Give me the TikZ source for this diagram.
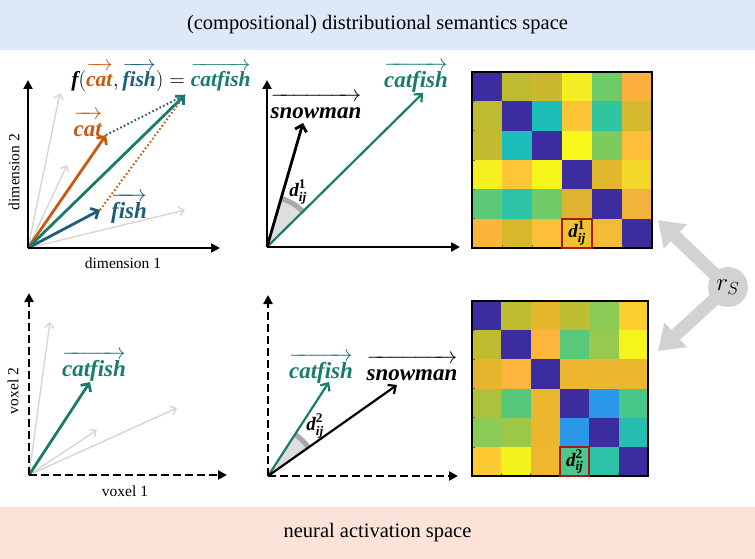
\RequirePackage{fix-cm}
\documentclass[tikz,border=0pt]{standalone}
\usepackage{amsmath}
\usepackage{fontspec}
\setmainfont{Liberation Serif}
\usetikzlibrary{arrows.meta}

\definecolor{catc}{HTML}{C55A11}
\definecolor{fishc}{HTML}{1F5C7C}
\definecolor{cfc}{HTML}{1B7B6B}
\definecolor{lgray}{HTML}{D6D6D6}
\definecolor{topband}{HTML}{DDE9F6}
\definecolor{botband}{HTML}{FBE3DA}
\definecolor{redbox}{HTML}{A31A1A}
\definecolor{rsgray}{HTML}{D2D2D2}
\definecolor{sectorc}{HTML}{DEDEDE}
\definecolor{arcc}{HTML}{A9A9A9}

\newcommand{\bitext}{\bfseries\itshape}
\newcommand{\vlab}[1]{\overrightarrow{\text{\bitext #1\/\rule{0pt}{0.73em}}}}
\newcommand{\dlab}[1]{\text{\bitext d}^{\text{\bfseries #1}}_{\text{\bitext ij}}}

\begin{document}
\begin{tikzpicture}[x=1pt,y=-1pt,
  axis/.style={line width=2.8pt, -{Triangle[length=9pt,width=9pt]}},
  daxis/.style={axis, dash pattern=on 8pt off 4pt},
  vec/.style={line width=2.8pt, -{Straight Barb[length=6pt,width=12pt]}},
  midvec/.style={line width=2.2pt, -{Straight Barb[length=6pt,width=11pt]}},
  thinvec/.style={line width=1.4pt, lgray, -{Straight Barb[length=5pt,width=9pt]}},
  dotline/.style={line width=2pt, dash pattern=on 1.6pt off 2.4pt},
  vlabel/.style={font=\fontsize{23}{25}\selectfont, inner sep=0pt},
  flabel/.style={font=\fontsize{21.5}{24}\selectfont, inner sep=0pt},
  dlabel/.style={font=\fontsize{19}{21}\selectfont, inner sep=0pt},
  axlabel/.style={font=\fontsize{15.5}{18}\selectfont, inner sep=0pt},
  band/.style={font=\fontsize{20.5}{24}\selectfont, inner sep=0pt},
  sector/.style={fill=sectorc},
  arcband/.style={line width=5pt, arcc},
  hlcell/.style={draw=redbox, line width=2.2pt, inner sep=0pt, font=\fontsize{19}{21}\selectfont},
]
\useasboundingbox (0,0) rectangle (755,559);

% bands
\fill[topband] (0,0) rectangle (755,50);
\node[band] (toptitle) at (377.5,25) {(compositional) distributional semantics space};
\fill[botband] (0,507) rectangle (755,559);
\node[band] (bottitle) at (377.5,533) {neural activation space};

% ---------- panel 1 ----------
\coordinate (o1) at (28,248);
\coordinate (y1) at (28,80);
\coordinate (x1) at (220,248);
\coordinate (g1a) at (60,93);
\coordinate (g1b) at (67,165);
\coordinate (g1c) at (185,210);
\coordinate (cat) at (106,135);
\coordinate (fish) at (100,210);
\coordinate (cf1) at (185,95);
\draw[thinvec] (o1) -- (g1a);
\draw[thinvec] (o1) -- (g1b);
\draw[thinvec] (o1) -- (g1c);
\draw[dotline, fishc] (cat) -- (cf1);
\draw[dotline, catc] (fish) -- (cf1);
\draw[vec, catc] (o1) -- (cat);
\draw[vec, fishc] (o1) -- (fish);
\draw[vec, cfc] (o1) -- (cf1);
\draw[axis] (o1) -- (y1);
\draw[axis] (o1) -- (x1);
\node[vlabel, text=catc] (catlab) at (88,124) {$\vlab{cat}$};
\node[vlabel, text=fishc] (fishlab) at (129,208) {$\vlab{fish}$};
\node[flabel] (formula) at (161,77) {$\text{\bitext f}({\color{catc}\vlab{cat}},{\color{fishc}\vlab{fish}})={\color{cfc}\vlab{catfish}}$};
\node[axlabel, rotate=90] (dim2) at (14,172) {dimension 2};
\node[axlabel] (dim1) at (123,263) {dimension 1};

% ---------- panel 2 ----------
\coordinate (o2) at (267,247);
\coordinate (y2) at (267,80);
\coordinate (x2) at (460,247);
\coordinate (snow2) at (303,123);
\coordinate (cf2) at (423,93);
\fill[sector] (o2) -- ++(-44.6:53) arc[start angle=-44.6, end angle=-73.8, radius=53] -- cycle;
\draw[arcband] ([shift={(-44.6:50.5)}]o2) arc[start angle=-44.6, end angle=-73.8, radius=50.5];
\draw[midvec, cfc] (o2) -- (cf2);
\draw[vec, black] (o2) -- (snow2);
\draw[axis] (o2) -- (y2);
\draw[axis] (o2) -- (x2);
\node[vlabel] (snowlab2) at (316,106) {$\vlab{snowman}$};
\node[vlabel, text=cfc] (cflab2) at (416,77) {$\vlab{catfish}$};
\node[dlabel] (d1) at (298,192) {$\dlab{1}$};

% ---------- panel 4 ----------
\coordinate (o4) at (29,475);
\coordinate (y4) at (29,293);
\coordinate (x4) at (227,475);
\coordinate (g4a) at (50,322);
\coordinate (g4b) at (97,430);
\coordinate (g4c) at (177,408);
\coordinate (cf4) at (90,382);
\draw[thinvec] (o4) -- (g4a);
\draw[thinvec] (o4) -- (g4b);
\draw[thinvec] (o4) -- (g4c);
\draw[vec, cfc] (o4) -- (cf4);
\draw[daxis] (o4) -- (y4);
\draw[daxis] (o4) -- (x4);
\node[vlabel, text=cfc] (cflab4) at (94,366) {$\vlab{catfish}$};
\node[axlabel, rotate=90] (vox2) at (13,391) {voxel 2};
\node[axlabel] (vox1) at (125,491) {voxel 1};

% ---------- panel 5 ----------
\coordinate (o5) at (268,476);
\coordinate (y5) at (268,295);
\coordinate (x5) at (458,476);
\coordinate (cf5) at (329,382);
\coordinate (snow5) at (397,385);
\fill[sector] (o5) -- ++(-35.2:52) arc[start angle=-35.2, end angle=-57.0, radius=52] -- cycle;
\draw[arcband] ([shift={(-35.2:49.5)}]o5) arc[start angle=-35.2, end angle=-57.0, radius=49.5];
\draw[midvec, cfc] (o5) -- (cf5);
\draw[midvec, black] (o5) -- (snow5);
\draw[daxis] (o5) -- (y5);
\draw[daxis] (o5) -- (x5);
\node[vlabel, text=cfc] (cflab5) at (321,368) {$\vlab{catfish}$};
\node[vlabel] (snowlab5) at (412,368) {$\vlab{snowman}$};
\node[dlabel] (d2) at (315,426) {$\dlab{2}$};

% ---------- matrix top ----------
\foreach \row [count=\i from 0] in {
  {3B2D9F,BDBB30,CBB82C,F3EE21,6DCB69,FBB13C},
  {BDBB30,3B2D9F,1DBDB9,FCC535,2FC59F,D6B92E},
  {C3BA2F,1FBCBC,3B2D9F,F8F71A,7ECB5D,FDBE38},
  {F5EF20,FCC637,F6F51B,3B2D9F,E1B72D,F3D82A},
  {5CC977,2DC3A6,6FCB68,DDB32F,3B2D9F,F1B33A},
  {FBB53C,D7B82D,FDBF38,F0C22E,F4BC36,3B2D9F}} {
  \foreach \col [count=\j from 0] in \row {
    \definecolor{tmpc}{HTML}{\col}
    \fill[tmpc] ({472+\j*30},{72+\i*29.333}) rectangle ++(30.2,29.6);
  }
}
\foreach \k in {1,...,5} {
  \draw[black!60, line width=0.5pt] (472,{72+\k*29.333}) -- ++(3,0);
  \draw[black!60, line width=0.5pt] ({472+\k*30},248) -- ++(0,-3);
}
\draw[line width=1.6pt] (472,72) rectangle (652,248);
\node[hlcell, minimum width=30pt, minimum height=29.3pt] (hl1) at (577,233.3) {$\dlab{1}$};

% ---------- matrix bottom ----------
\foreach \row [count=\i from 0] in {
  {3B2D9F,BFBC30,E6B62C,BDBE33,8ACB55,FBCF30},
  {BFBC30,3B2D9F,FDB53C,5AC87A,96C94F,F6F51B},
  {E6B52D,FDB53C,3B2D9F,ECB72E,ECB72E,ECB72E},
  {AEC13D,56C77B,ECB72E,3B2D9F,2B97E9,47C78A},
  {8ACA56,9CC84A,ECB72E,2B97E9,3B2D9F,27BDB0},
  {FCCB33,F4F41C,EDB72E,4CC789,2CC2A8,3B2D9F}} {
  \foreach \col [count=\j from 0] in \row {
    \definecolor{tmpc}{HTML}{\col}
    \fill[tmpc] ({472+\j*29.333},{301+\i*29.167}) rectangle ++(29.6,29.4);
  }
}
\foreach \k in {1,...,5} {
  \draw[black!60, line width=0.5pt] (472,{301+\k*29.167}) -- ++(3,0);
  \draw[black!60, line width=0.5pt] ({472+\k*29.333},476) -- ++(0,-3);
}
\draw[line width=1.6pt] (472,301) rectangle (648,476);
\node[hlcell, minimum width=29.3pt, minimum height=29.2pt] (hl2) at (574.7,461.4) {$\dlab{2}$};

% ---------- r_S ----------
\node[circle, fill=rsgray, minimum size=40pt, inner sep=0pt, font=\fontsize{25}{27}\selectfont] (rs) at (728,287) {$r_S$};
\coordinate (rsup) at (658,220);
\coordinate (rsdown) at (658,351);
\draw[rsgray, line width=13pt, shorten <=-5pt, -{Triangle[length=24pt,width=32pt]}] (rs) -- (rsup);
\draw[rsgray, line width=13pt, shorten <=-5pt, -{Triangle[length=24pt,width=32pt]}] (rs) -- (rsdown);
\end{tikzpicture}
\end{document}
